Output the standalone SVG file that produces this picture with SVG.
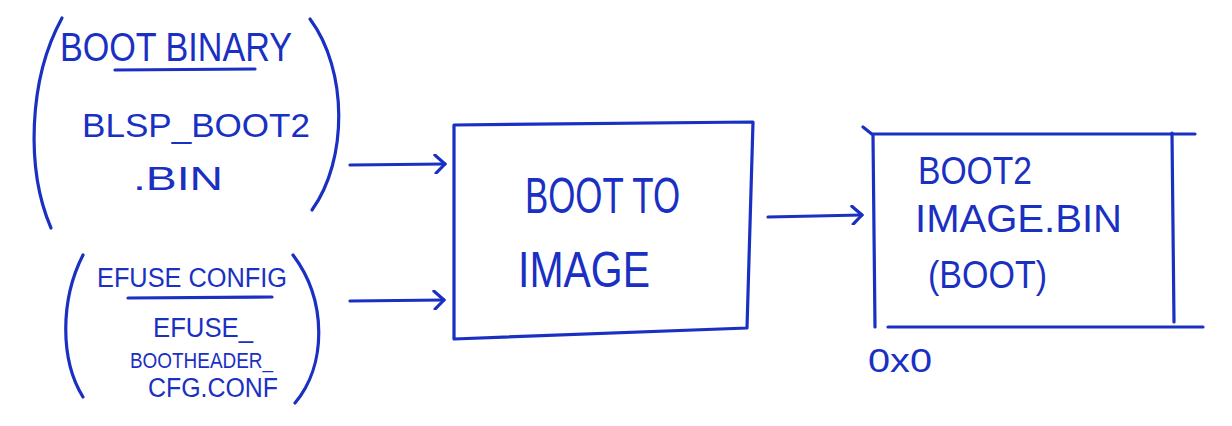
<svg xmlns="http://www.w3.org/2000/svg" width="1232" height="426" viewBox="0 0 1232 426">
<style>
.ink{fill:none;stroke:#1a30c2;stroke-width:3.2;stroke-linecap:round;stroke-linejoin:round}
.t{fill:#1a30c2;font-family:"Liberation Sans","DejaVu Sans",sans-serif;font-weight:normal}
</style>
<defs>
<marker id="ah" markerWidth="14" markerHeight="20" refX="12" refY="10" orient="auto" markerUnits="userSpaceOnUse">
<path d="M2,1 L12,10 L3,19" fill="none" stroke="#1a30c2" stroke-width="3.2" stroke-linecap="round" stroke-linejoin="round"/>
</marker>
</defs>
<rect width="1232" height="426" fill="#ffffff"/>
<g id="boot-binary">
<path class="ink" d="M62,18 C28,80 26,170 51,228"/>
<path class="ink" d="M310,19 C348,70 348,160 312,210"/>
<text class="t" x="60" y="61" font-size="40" textLength="232" lengthAdjust="spacingAndGlyphs">BOOT BINARY</text>
<path class="ink" d="M115,70 L255,69"/>
<text class="t" x="82" y="137" font-size="34" textLength="228" lengthAdjust="spacingAndGlyphs">BLSP_BOOT2</text>
<text class="t" x="133" y="190" font-size="34" textLength="90" lengthAdjust="spacingAndGlyphs">.BIN</text>
</g>
<g id="efuse-config">
<path class="ink" d="M83,255 C60,300 60,360 83,397"/>
<path class="ink" d="M293,255 C327,300 327,365 295,403"/>
<text class="t" x="97" y="287" font-size="27" textLength="190" lengthAdjust="spacingAndGlyphs">EFUSE CONFIG</text>
<path class="ink" d="M128,298 L272,297"/>
<text class="t" x="153" y="337" font-size="28" textLength="100" lengthAdjust="spacingAndGlyphs">EFUSE_</text>
<text class="t" x="130" y="368" font-size="22" textLength="143" lengthAdjust="spacingAndGlyphs">BOOTHEADER_</text>
<text class="t" x="148" y="397" font-size="27" textLength="130" lengthAdjust="spacingAndGlyphs">CFG.CONF</text>
</g>
<g id="boot-to-image">
<path class="ink" d="M454,125 L753,122 L747,328 L454,339 Z"/>
<text class="t" x="525" y="213" font-size="50" textLength="155" lengthAdjust="spacingAndGlyphs">BOOT TO</text>
<text class="t" x="518" y="287" font-size="50" textLength="132" lengthAdjust="spacingAndGlyphs">IMAGE</text>
</g>
<g id="boot2-image">
<path class="ink" d="M863,127 L873,135 L875,327"/>
<path class="ink" d="M873,134 L1195,134"/>
<path class="ink" d="M1172,133 L1174,322"/>
<path class="ink" d="M888,327 L1203,327"/>
<text class="t" x="918" y="184" font-size="38" textLength="114" lengthAdjust="spacingAndGlyphs">BOOT2</text>
<text class="t" x="915" y="232" font-size="38" textLength="207" lengthAdjust="spacingAndGlyphs">IMAGE.BIN</text>
<text class="t" x="928" y="288" font-size="38" textLength="119" lengthAdjust="spacingAndGlyphs">(BOOT)</text>
<text class="t" x="868" y="372" font-size="34" textLength="64" lengthAdjust="spacingAndGlyphs">0x0</text>
</g>
<g id="connectors">
<path class="ink" d="M350,165 L445,164" marker-end="url(#ah)"/>
<path class="ink" d="M350,301 L444,300" marker-end="url(#ah)"/>
<path class="ink" d="M768,217 L862,215" marker-end="url(#ah)"/>
</g>
</svg>
